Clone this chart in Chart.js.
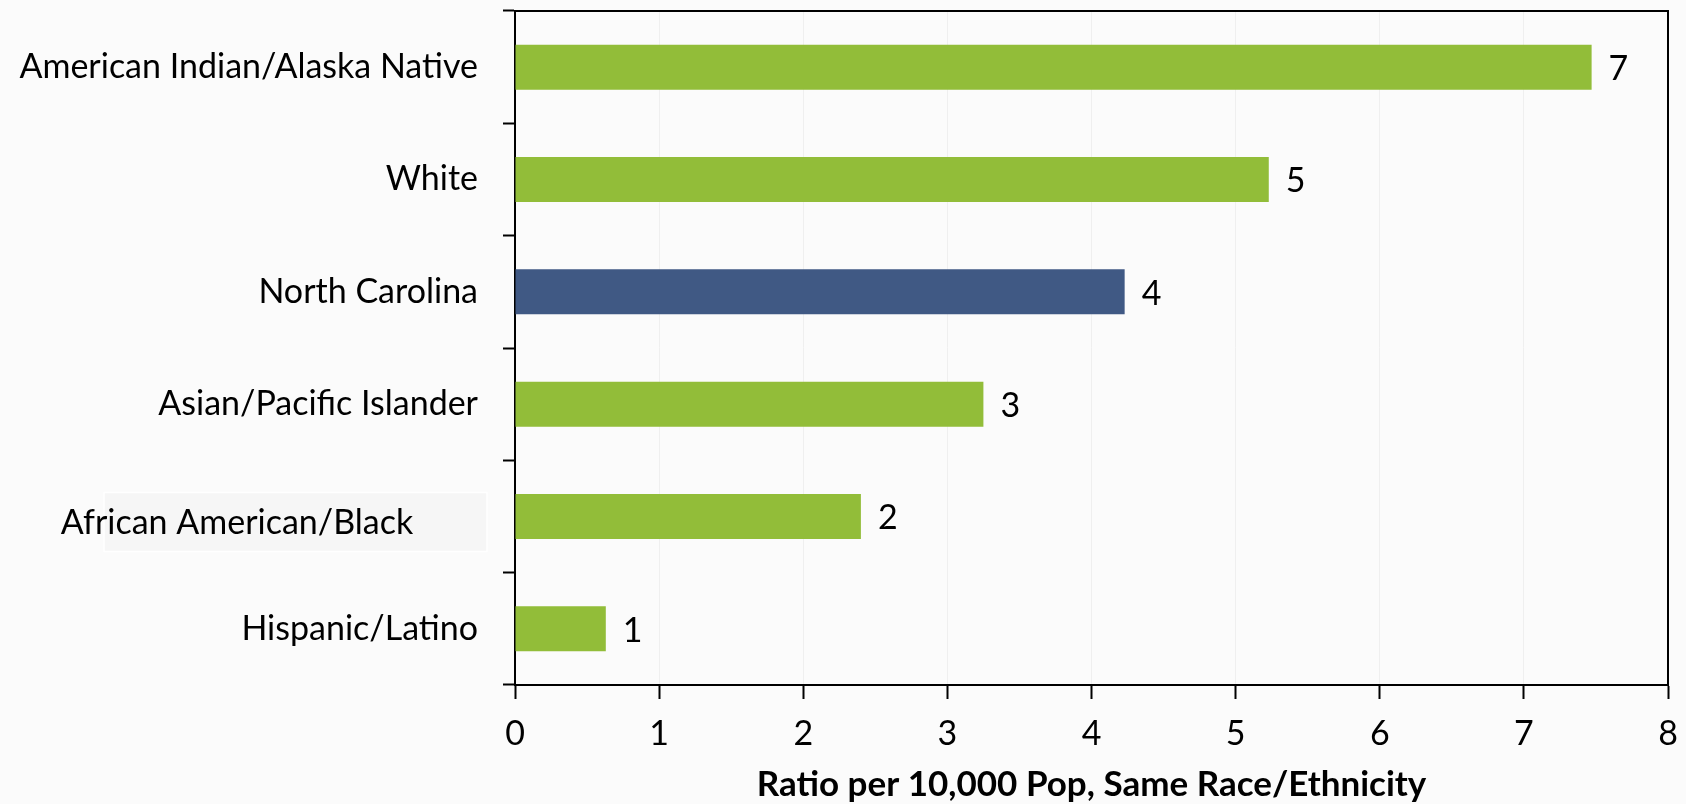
<!DOCTYPE html>
<html>
<head>
<meta charset="utf-8">
<script src="https://cdn.jsdelivr.net/npm/chart.js@4.4.1/dist/chart.umd.min.js"></script>
<style>
  html, body { margin: 0; padding: 0; background: #FBFBFB; }
  #wrap { width: 1686px; height: 804px; }
</style>
</head>
<body>
<div id="wrap"><canvas id="c" width="1686" height="804"></canvas></div>
<script>
// Ratio per 10,000 population by race/ethnicity
const categories = [
  'American Indian/Alaska Native',
  'White',
  'North Carolina',
  'Asian/Pacific Islander',
  'African American/Black',
  'Hispanic/Latino'
];
const ratios = [7.47, 5.23, 4.23, 3.25, 2.40, 0.63];
const xTickValues = [0, 1, 2, 3, 4, 5, 6, 7, 8];
const axisTitle = 'Ratio per 10,000 Pop, Same Race/Ethnicity';
const stateLabel = 'North Carolina';
const boxedLabel = 'African American/Black';

const GREEN = '#92BD39';
const NAVY = '#405984';
const FONT = 'Lato, "Open Sans", sans-serif';
const FONT_SIZE = 34;

// page background
const backgroundPlugin = {
  id: 'pageBackground',
  beforeDraw(chart) {
    const ctx = chart.ctx;
    ctx.save();
    ctx.fillStyle = '#FBFBFB';
    ctx.fillRect(0, 0, chart.width, chart.height);
    ctx.restore();
  }
};

// top and right frame lines, the boxed category label, and value labels
const decorPlugin = {
  id: 'decor',
  afterDraw(chart) {
    const ctx = chart.ctx;
    const a = chart.chartArea;
    ctx.save();
    ctx.strokeStyle = '#000';
    ctx.lineWidth = 2;
    ctx.beginPath();
    ctx.moveTo(a.left, a.top);
    ctx.lineTo(a.right, a.top);
    ctx.lineTo(a.right, a.bottom);
    ctx.stroke();

    // value labels at bar ends
    ctx.font = FONT_SIZE + 'px ' + FONT;
    ctx.fillStyle = '#000';
    ctx.textAlign = 'left';
    ctx.textBaseline = 'middle';
    const meta = chart.getDatasetMeta(0);
    meta.data.forEach((bar, i) => {
      ctx.fillText(ratios[i].toFixed(0), bar.x + 17, bar.y + 2);
    });

    // boxed category label
    const yScale = chart.scales.y;
    const idx = categories.indexOf(boxedLabel);
    const cy = yScale.getPixelForValue(idx) + 5;
    ctx.fillStyle = '#F6F6F6';
    ctx.fillRect(104, cy - 29, 383, 59);
    ctx.strokeStyle = '#FFFFFF';
    ctx.lineWidth = 1.5;
    ctx.strokeRect(104, cy - 29, 383, 59);
    ctx.fillStyle = '#000';
    ctx.textAlign = 'center';
    ctx.fillText(boxedLabel, 237, cy + 2);
    ctx.restore();
  }
};

new Chart(document.getElementById('c'), {
  type: 'bar',
  data: {
    labels: categories,
    datasets: [{
      data: ratios,
      backgroundColor: ctx => categories[ctx.dataIndex] === stateLabel ? NAVY : GREEN,
      borderWidth: 0,
      barPercentage: 0.8,
      categoryPercentage: 0.5
    }]
  },
  options: {
    indexAxis: 'y',
    responsive: false,
    animation: false,
    devicePixelRatio: 1,
    layout: { padding: { top: 11, right: 18, left: 0, bottom: 0 } },
    plugins: {
      legend: { display: false },
      tooltip: { enabled: false }
    },
    scales: {
      x: {
        type: 'linear',
        min: xTickValues[0],
        max: xTickValues[xTickValues.length - 1],
        afterBuildTicks: s => { s.ticks = xTickValues.map(v => ({ value: v })); },
        afterFit: s => { s.height = 119; s.paddingLeft = 0; s.paddingRight = 0; },
        border: { display: true, color: '#000', width: 2 },
        grid: {
          color: '#EFEFEF',
          lineWidth: 1,
          tickColor: '#000',
          tickWidth: 2,
          tickLength: 14
        },
        ticks: {
          color: '#000',
          font: { family: FONT, size: FONT_SIZE },
          padding: 15,
          maxRotation: 0
        },
        title: {
          display: true,
          text: axisTitle,
          color: '#000',
          font: { family: FONT, size: 35, weight: 'bold', lineHeight: 1.1 },
          padding: { top: 0, bottom: 0 }
        }
      },
      y: {
        type: 'category',
        afterFit: s => { s.width = 515; s.paddingTop = 0; s.paddingBottom = 0; },
        border: { display: true, color: '#000', width: 2 },
        grid: {
          drawOnChartArea: false,
          offset: true,
          tickColor: '#000',
          tickWidth: 2,
          tickLength: 12
        },
        ticks: {
          color: '#000',
          font: { family: FONT, size: FONT_SIZE },
          padding: 25,
          callback: function (value) {
            const name = this.getLabelForValue(value);
            return name === boxedLabel ? '' : name;
          }
        }
      }
    }
  },
  plugins: [backgroundPlugin, decorPlugin]
});
</script>
</body>
</html>
